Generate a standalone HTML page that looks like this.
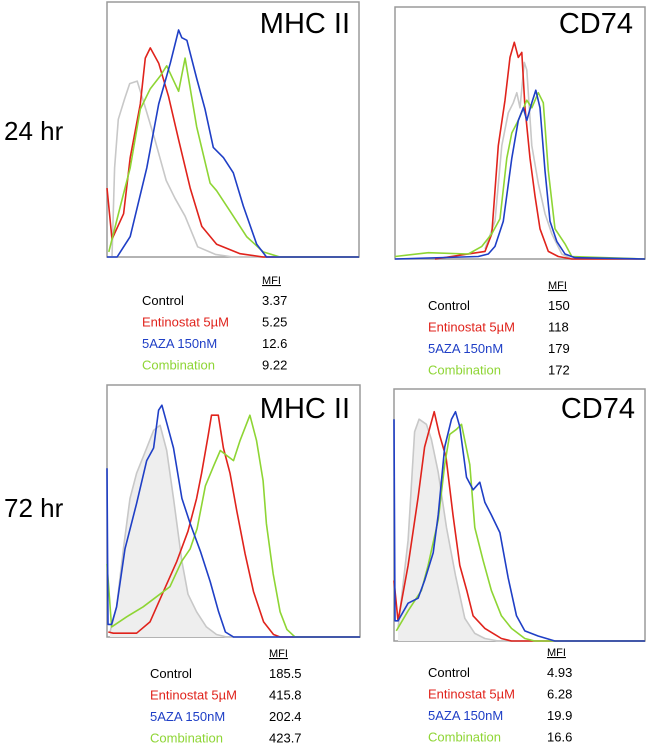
<!DOCTYPE html>
<html><head><meta charset="utf-8"><style>
body{margin:0;background:#fff;width:650px;height:748px;overflow:hidden}
svg{display:block;font-family:"Liberation Sans",sans-serif}
</style></head><body>
<svg id="fig" width="650" height="748"></svg>
<script>
// Data arrays: [x fraction, height fraction]
const p1Control=[[0.02,0],[0.03,0.35],[0.045,0.54],[0.07,0.62],[0.09,0.68],[0.12,0.69],[0.145,0.61],[0.19,0.46],[0.235,0.30],[0.27,0.23],[0.31,0.16],[0.36,0.04],[0.43,0.01],[0.5,0]];
const p1Ent=[[0,0.27],[0.02,0.07],[0.066,0.17],[0.092,0.39],[0.132,0.60],[0.152,0.78],[0.172,0.82],[0.205,0.76],[0.244,0.63],[0.284,0.46],[0.33,0.27],[0.376,0.12],[0.435,0.05],[0.528,0.013],[0.62,0]];
const p1Aza=[[0,0],[0.04,0],[0.092,0.08],[0.158,0.35],[0.205,0.6],[0.251,0.76],[0.284,0.89],[0.297,0.86],[0.317,0.85],[0.356,0.7],[0.389,0.58],[0.422,0.43],[0.462,0.39],[0.501,0.33],[0.541,0.2],[0.594,0.05],[0.633,0],[1,0]];
const p1Comb=[[0.007,0.02],[0.053,0.2],[0.092,0.35],[0.132,0.58],[0.172,0.66],[0.211,0.71],[0.237,0.75],[0.284,0.65],[0.31,0.78],[0.356,0.51],[0.409,0.29],[0.435,0.26],[0.488,0.18],[0.554,0.08],[0.62,0.02],[0.686,0]];
const p2Control=[[0.36,0.04],[0.4,0.15],[0.427,0.45],[0.453,0.58],[0.473,0.62],[0.487,0.66],[0.5,0.6],[0.517,0.78],[0.527,0.75],[0.547,0.45],[0.573,0.3],[0.6,0.18],[0.627,0.1],[0.667,0.02],[0.707,0]];
const p2Ent=[[0.16,0],[0.36,0.03],[0.387,0.1],[0.413,0.45],[0.44,0.63],[0.46,0.8],[0.477,0.86],[0.493,0.8],[0.507,0.82],[0.52,0.6],[0.54,0.4],[0.56,0.25],[0.58,0.12],[0.613,0.03],[0.653,0.01],[0.707,0]];
const p2Aza=[[0,0],[0.333,0.01],[0.373,0.02],[0.4,0.05],[0.433,0.15],[0.467,0.4],[0.493,0.55],[0.513,0.6],[0.527,0.55],[0.547,0.62],[0.563,0.67],[0.58,0.6],[0.6,0.35],[0.62,0.15],[0.647,0.07],[0.68,0.02],[0.72,0.005],[1,0]];
const p2Comb=[[0,0.01],[0.133,0.025],[0.293,0.02],[0.347,0.05],[0.387,0.1],[0.42,0.16],[0.447,0.4],[0.467,0.5],[0.493,0.55],[0.527,0.63],[0.547,0.6],[0.573,0.66],[0.593,0.62],[0.613,0.35],[0.64,0.12],[0.68,0.06],[0.707,0.01],[1,0]];
const p3Control=[[0.012,0.02],[0.038,0.12],[0.065,0.35],[0.091,0.55],[0.117,0.65],[0.157,0.75],[0.184,0.82],[0.21,0.84],[0.236,0.74],[0.263,0.55],[0.296,0.3],[0.32,0.17],[0.354,0.1],[0.393,0.04],[0.433,0.01],[0.473,0]];
const p3Ent=[[0.005,0.02],[0.025,0.015],[0.117,0.015],[0.17,0.06],[0.223,0.18],[0.276,0.3],[0.32,0.42],[0.354,0.55],[0.374,0.65],[0.4,0.8],[0.413,0.88],[0.44,0.88],[0.46,0.75],[0.486,0.65],[0.513,0.5],[0.546,0.33],[0.579,0.18],[0.619,0.06],[0.658,0.01],[0.684,0]];
const p3Aza=[[0,0.67],[0.004,0.05],[0.018,0.05],[0.038,0.12],[0.071,0.35],[0.117,0.53],[0.157,0.7],[0.184,0.75],[0.204,0.9],[0.217,0.92],[0.236,0.85],[0.263,0.75],[0.296,0.55],[0.329,0.45],[0.369,0.34],[0.408,0.22],[0.441,0.1],[0.468,0.02],[0.5,0],[1,0]];
const p3Comb=[[0,0.29],[0.018,0.04],[0.078,0.08],[0.143,0.12],[0.196,0.16],[0.249,0.2],[0.295,0.3],[0.329,0.35],[0.356,0.43],[0.389,0.6],[0.422,0.68],[0.448,0.74],[0.474,0.72],[0.5,0.7],[0.526,0.78],[0.565,0.88],[0.591,0.78],[0.617,0.62],[0.63,0.45],[0.657,0.25],[0.684,0.1],[0.711,0.03],[0.743,0]];
const p4Control=[[0.016,0.05],[0.056,0.4],[0.082,0.83],[0.1,0.88],[0.129,0.86],[0.149,0.8],[0.176,0.67],[0.209,0.45],[0.245,0.26],[0.282,0.09],[0.322,0.03],[0.362,0.01],[0.415,0]];
const p4Ent=[[0,0.24],[0.016,0.08],[0.056,0.3],[0.096,0.57],[0.122,0.77],[0.16,0.91],[0.181,0.82],[0.207,0.73],[0.235,0.5],[0.262,0.3],[0.29,0.2],[0.315,0.1],[0.362,0.05],[0.428,0.01],[0.468,0],[1,0]];
const p4Aza=[[0,0.88],[0.004,0.08],[0.016,0.08],[0.056,0.15],[0.096,0.17],[0.122,0.24],[0.156,0.35],[0.176,0.5],[0.202,0.77],[0.229,0.88],[0.245,0.91],[0.262,0.85],[0.289,0.65],[0.315,0.6],[0.342,0.63],[0.362,0.55],[0.388,0.5],[0.422,0.43],[0.455,0.25],[0.488,0.1],[0.521,0.04],[0.574,0.02],[0.641,0]];
const p4Comb=[[0.009,0.04],[0.056,0.12],[0.109,0.2],[0.136,0.3],[0.176,0.48],[0.202,0.7],[0.222,0.82],[0.249,0.84],[0.269,0.86],[0.302,0.7],[0.322,0.45],[0.355,0.32],[0.388,0.2],[0.428,0.1],[0.468,0.05],[0.521,0.01],[0.561,0]];
const seriesNames=["Control","Entinostat 5µM","5AZA 150nM","Combination"];
const p1MFI=["3.37","5.25","12.6","9.22"];
const p2MFI=["150","118","179","172"];
const p3MFI=["185.5","415.8","202.4","423.7"];
const p4MFI=["4.93","6.28","19.9","16.6"];

const colors=["#c8c8c8","#e0231c","#1f3fc6","#8ed534"];
const NS="http://www.w3.org/2000/svg";
const svg=document.getElementById('fig');
function mk(tag,attrs,parent){const e=document.createElementNS(NS,tag);for(const k in attrs)e.setAttribute(k,attrs[k]);(parent||svg).appendChild(e);return e;}

const panels=[
 {id:"p1",title:"MHC II",x:107,y:2,w:252,h:255,series:[p1Control,p1Ent,p1Comb,p1Aza],order:[0,1,3,2],fill:false,mfi:p1MFI,lx:142,vx:262,ty:280,tr:350,tb:33},
 {id:"p2",title:"CD74",x:395,y:7,w:250,h:252,series:[p2Control,p2Ent,p2Comb,p2Aza],order:[0,1,3,2],fill:false,mfi:p2MFI,lx:428,vx:548,ty:285,tr:633,tb:33},
 {id:"p3",title:"MHC II",x:107,y:385,w:253,h:252,series:[p3Control,p3Ent,p3Comb,p3Aza],order:[0,1,3,2],fill:true,mfi:p3MFI,lx:150,vx:269,ty:653,tr:350,tb:418},
 {id:"p4",title:"CD74",x:394,y:389,w:251,h:252,series:[p4Control,p4Ent,p4Comb,p4Aza],order:[0,1,3,2],fill:true,mfi:p4MFI,lx:428,vx:547,ty:652,tr:635,tb:418}
];
panels.forEach(p=>{
  const g=mk('g',{});
  
  
  const xs=f=>p.x+f*p.w, ys=f=>p.y+p.h-f*p.h;
  const fr=mk('rect',{x:p.x,y:p.y,width:p.w,height:p.h,fill:'#fff',stroke:'#9a9a9a','stroke-width':1.5},g);
  
  
  p.series.forEach((s,i)=>{
    const ci=p.order[i];
    const pts=s.map(d=>xs(d[0]).toFixed(1)+","+ys(d[1]).toFixed(1));
    if(ci===0&&p.fill){
      const poly=mk('polygon',{points:xs(s[0][0])+","+ys(0)+" "+pts.join(" ")+" "+xs(s[s.length-1][0])+","+ys(0),fill:'#eeeeee',stroke:'none'},g);
      
      
    }
    const full=pts.slice();
    if(s[s.length-1][0]<1) full.push(xs(1)+","+ys(0));
    const pl=mk('polyline',{points:full.join(" "),fill:'none',stroke:colors[ci],'stroke-width':1.6,'stroke-linejoin':'round'},g);
    
    
  });
  const t=mk('text',{x:p.tr,y:p.tb,'text-anchor':'end','font-size':29,fill:'#000'},g);
  t.textContent=p.title;
  
  
  const mh=mk('text',{x:p.vx,y:p.ty+4,'font-size':11,'text-decoration':'underline',fill:'#000'},g);
  mh.textContent="MFI";
  
  
  seriesNames.forEach((n,i)=>{
    const yy=p.ty+20+i*21.5+5;
    const lc=i===0?'#000':colors[i];
    const l=mk('text',{x:p.lx,y:yy,'font-size':13,fill:lc},g);
    l.textContent=n;
    
    
    const v=mk('text',{x:p.vx,y:yy,'font-size':13,fill:'#000'},g);
    v.textContent=p.mfi[i];
    
    
  });
});
[["24 hr",140],["72 hr",517]].forEach(r=>{
  const t=mk('text',{x:4,y:r[1],'font-size':26,fill:'#000'});
  t.textContent=r[0];
  
  
});
</script>
</body></html>
